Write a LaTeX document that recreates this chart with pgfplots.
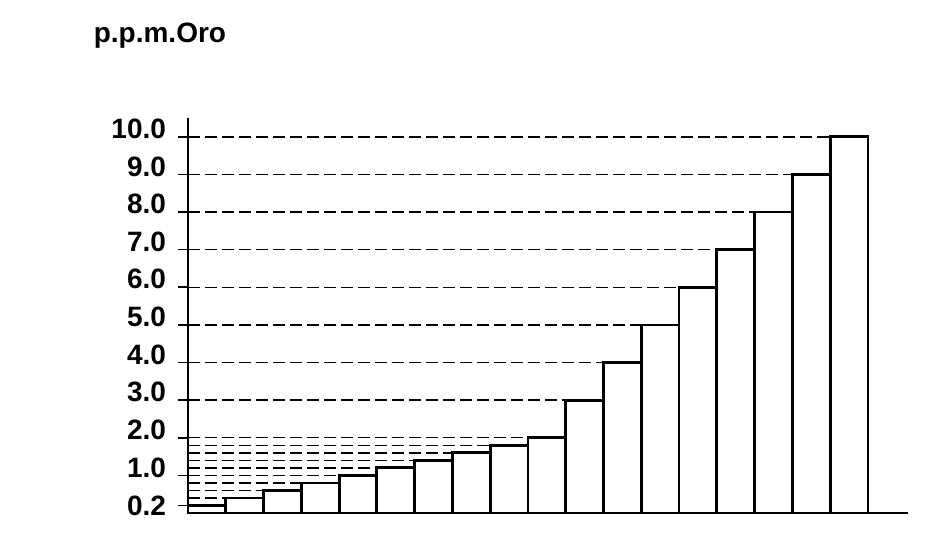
\documentclass[border=0pt]{standalone}
\usepackage{fontspec}
\setmainfont{Liberation Sans}
\usepackage{pgfplots}
\pgfplotsset{compat=1.18}
\begin{document}
\begin{tikzpicture}
\useasboundingbox (-94pt,-9.5pt) rectangle (377pt,256.5pt);
\begin{axis}[
  at={(0,0)}, anchor=south west,
  scale only axis, width=360pt, height=197.5pt,
  xmin=0.5, xmax=19.56, ymin=0, ymax=10.5,
  axis lines=left, axis line style={-, line width=1pt},
  xtick=\empty,
  ytick={1,2,3,4,5,6,7,8,9,10},
  yticklabels={1.0,2.0,3.0,4.0,5.0,6.0,7.0,8.0,9.0,10.0},
  extra y ticks={0.2}, extra y tick labels={0.2},
  extra y tick style={yticklabel style={yshift=-4pt}},
  yticklabel style={font=\fontsize{14}{16}\selectfont\bfseries, yshift=4pt, xshift=-2.5pt},
  tick align=outside, major tick length=5pt,
  tick style={line width=0.8pt, black},
  title={p.p.m.Oro},
  title style={at={(axis description cs:-0.039,1.177)}, anchor=center,
    font=\fontsize{14}{16}\selectfont\bfseries},
  clip=false,
]
% dashed guide lines from the axis to the left edge of each bar
\pgfplotsset{guide/.style={black, dash pattern=on 6pt off 2.5pt, line width=0.7pt, forget plot}}
\addplot[guide] coordinates {(0.5,0.4) (1.5,0.4)};
\addplot[guide] coordinates {(0.5,0.6) (2.5,0.6)};
\addplot[guide] coordinates {(0.5,0.8) (3.5,0.8)};
\addplot[guide] coordinates {(0.5,1.0) (4.5,1.0)};
\addplot[guide] coordinates {(0.5,1.2) (5.5,1.2)};
\addplot[guide] coordinates {(0.5,1.4) (6.5,1.4)};
\addplot[guide] coordinates {(0.5,1.6) (7.5,1.6)};
\addplot[guide] coordinates {(0.5,1.8) (8.5,1.8)};
\addplot[guide] coordinates {(0.5,2.0) (9.5,2.0)};
\addplot[guide] coordinates {(0.5,3.0) (10.5,3.0)};
\addplot[guide] coordinates {(0.5,4.0) (11.5,4.0)};
\addplot[guide] coordinates {(0.5,5.0) (12.5,5.0)};
\addplot[guide] coordinates {(0.5,6.0) (13.5,6.0)};
\addplot[guide] coordinates {(0.5,7.0) (14.5,7.0)};
\addplot[guide] coordinates {(0.5,8.0) (15.5,8.0)};
\addplot[guide] coordinates {(0.5,9.0) (16.5,9.0)};
\addplot[guide] coordinates {(0.5,10.0) (17.5,10.0)};
% bars
\addplot[ybar, bar width=1, fill=white, draw=black, line width=1.4pt] coordinates {
  (1,0.2) (2,0.4) (3,0.6) (4,0.8) (5,1.0) (6,1.2) (7,1.4) (8,1.6) (9,1.8)
  (10,2.0) (11,3.0) (12,4.0) (13,5.0) (14,6.0) (15,7.0) (16,8.0) (17,9.0) (18,10.0)
};
\end{axis}
\end{tikzpicture}
\end{document}
